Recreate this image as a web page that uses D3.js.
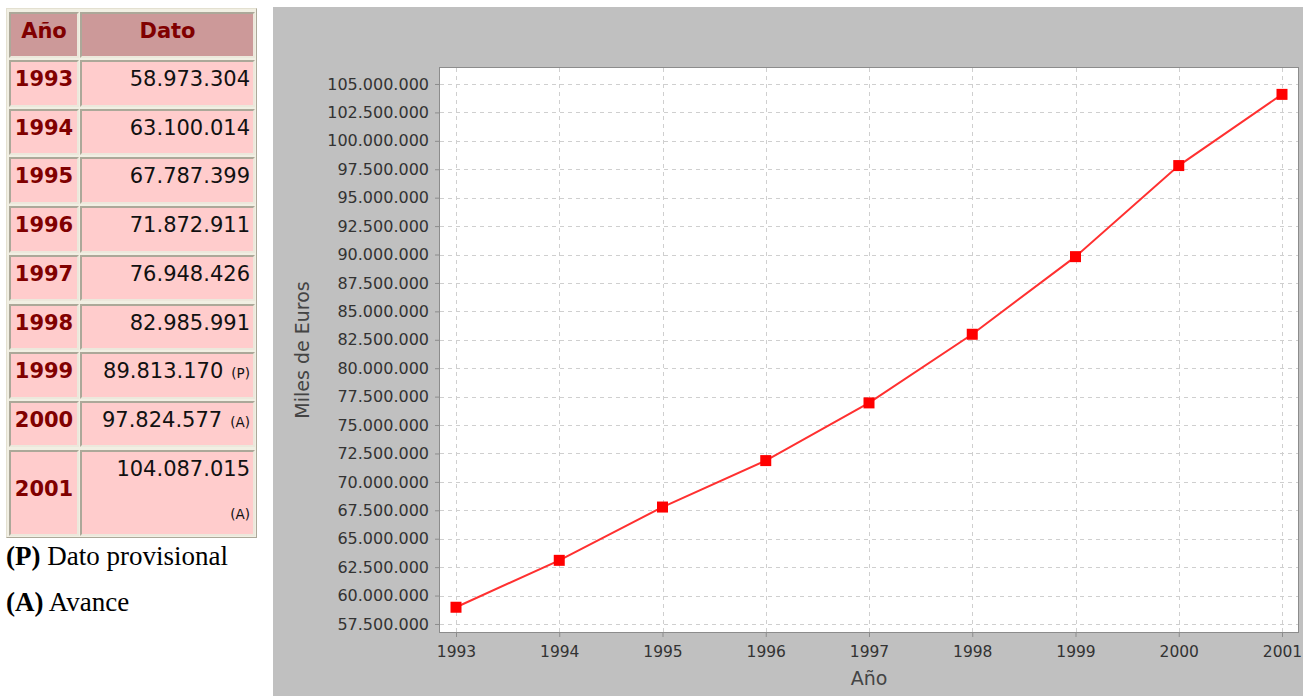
<!DOCTYPE html>
<html>
<head>
<meta charset="utf-8">
<script src="https://cdn.jsdelivr.net/npm/d3@7"></script>
<style>
  body { margin: 0; background: #fff; width: 1303px; height: 696px; overflow: hidden; position: relative; }
  #tabla { position: absolute; left: 6px; top: 8px; width: 251px; height: 530px; background: #f1efe3;
           box-sizing: border-box; border: 1px solid #e3e0d0; border-right-color: #aca899; border-bottom-color: #aca899; }
  .cell { position: absolute; box-sizing: border-box; border: 2px solid; border-color: #aca899 #ece8dc #ece8dc #aca899;
          font-family: "DejaVu Sans", Verdana, sans-serif; font-size: 21px; }
  .hdr { background: #cc9999; color: #800000; font-weight: bold; text-align: center; }
  .year { background: #ffcccc; color: #800000; font-weight: bold; text-align: center; }
  .val { background: #ffcccc; color: #111; text-align: right; padding-right: 3px; }
  .note { font-size: 13.5px; margin-left: 8px; }
  .foot { position: absolute; left: 6px; font-family: "Liberation Serif", "Times New Roman", serif; font-size: 27px; color: #000; }
  #chart { position: absolute; left: 0; top: 0; }
</style>
</head>
<body>
<svg id="chart" width="1303" height="696"></svg>
<div id="tabla"></div>
<div class="foot" style="top:541px"><b>(P)</b> Dato provisional</div>
<div class="foot" style="top:587px"><b>(A)</b> Avance</div>
<script>
const years = [1993, 1994, 1995, 1996, 1997, 1998, 1999, 2000, 2001]
const values = [58973304, 63100014, 67787399, 71872911, 76948426, 82985991, 89813170, 97824577, 104087015]
const notes = ["", "", "", "", "", "", "(P)", "(A)", "(A)"]
const yTicks = [57500000, 60000000, 62500000, 65000000, 67500000, 70000000, 72500000, 75000000, 77500000,
  80000000, 82500000, 85000000, 87500000, 90000000, 92500000, 95000000, 97500000, 100000000, 102500000, 105000000]
const yDomain = [56796000, 106407000]
const xDomain = [1993, 2001]

const es = d3.formatLocale({ decimal: ",", thousands: ".", grouping: [3], currency: ["", " €"] })
const fmt = es.format(",")

// ---- tabla ----
const tabla = d3.select("#tabla")
const col1 = { x: 2, w: 70 }, col2 = { x: 73, w: 175 }
const rowTop = i => 51 + i * 48.7
const rowH = i => i === years.length - 1 ? 86 : 46.5

tabla.append("div").attr("class", "cell hdr")
  .style("left", col1.x + "px").style("top", "3px").style("width", col1.w + "px").style("height", "46px")
  .style("line-height", "34px").text("Año")
tabla.append("div").attr("class", "cell hdr")
  .style("left", col2.x + "px").style("top", "3px").style("width", col2.w + "px").style("height", "46px")
  .style("line-height", "34px").text("Dato")

years.forEach((yr, i) => {
  const last = i === years.length - 1
  tabla.append("div").attr("class", "cell year")
    .style("left", col1.x + "px").style("top", rowTop(i) + "px")
    .style("width", col1.w + "px").style("height", rowH(i) + "px")
    .style("line-height", (rowH(i) - 12) + "px").text(yr)
  const c = tabla.append("div").attr("class", "cell val")
    .style("left", col2.x + "px").style("top", rowTop(i) + "px")
    .style("width", col2.w + "px").style("height", rowH(i) + "px")
  if (last) {
    c.style("line-height", "34px")
    c.append("div").text(fmt(values[i]))
    c.append("div").attr("class", "note").style("line-height", "56px").text(notes[i])
  } else {
    c.style("line-height", (rowH(i) - 12) + "px")
    c.append("span").text(fmt(values[i]))
    if (notes[i]) c.append("span").attr("class", "note").text(notes[i])
  }
})

// ---- gráfico ----
const svg = d3.select("#chart")
const bg = { x: 273, y: 7, w: 1030, h: 689 }
const plot = { left: 440, top: 68, right: 1298, bottom: 632 }

svg.append("rect").attr("x", bg.x).attr("y", bg.y).attr("width", bg.w).attr("height", bg.h).attr("fill", "#c0c0c0")

const x = d3.scaleLinear().domain(xDomain).range([456, 1282])
const y = d3.scaleLinear().domain(yDomain).range([plot.bottom, plot.top])

svg.append("rect").attr("x", plot.left).attr("y", plot.top)
  .attr("width", plot.right - plot.left).attr("height", plot.bottom - plot.top)
  .attr("fill", "#fff")

const grid = svg.append("g").attr("stroke", "#cfcfcf").attr("stroke-dasharray", "4,4").attr("stroke-width", 1)
grid.selectAll("line.h").data(yTicks).join("line").attr("class", "h")
  .attr("x1", plot.left).attr("x2", plot.right)
  .attr("y1", d => Math.round(y(d)) + 0.5).attr("y2", d => Math.round(y(d)) + 0.5)
grid.selectAll("line.v").data(years).join("line").attr("class", "v")
  .attr("y1", plot.top).attr("y2", plot.bottom)
  .attr("x1", d => Math.round(x(d)) + 0.5).attr("x2", d => Math.round(x(d)) + 0.5)

svg.append("rect").attr("x", plot.left - 0.5).attr("y", plot.top - 0.5)
  .attr("width", plot.right - plot.left + 1).attr("height", plot.bottom - plot.top + 1)
  .attr("fill", "none").attr("stroke", "#8c8c8c").attr("stroke-width", 1)

const yAxis = svg.append("g").attr("transform", `translate(${plot.left - 1},0)`)
  .call(d3.axisLeft(y).tickValues(yTicks).tickFormat(fmt).tickSize(4).tickPadding(6))
const xAxis = svg.append("g").attr("transform", `translate(0,${plot.bottom + 1})`)
  .call(d3.axisBottom(x).tickValues(years).tickFormat(d3.format("d")).tickSize(4).tickPadding(9))

;[yAxis, xAxis].forEach(a => {
  a.select(".domain").remove()
  a.selectAll(".tick line").attr("stroke", "#8c8c8c")
  a.selectAll(".tick text").attr("fill", "#333").style("font-family", "'DejaVu Sans', sans-serif").style("font-size", "16px")
})
xAxis.selectAll(".tick text").style("font-size", "15.5px")

svg.append("text").attr("transform", `translate(309,350) rotate(-90)`)
  .attr("text-anchor", "middle").attr("fill", "#444")
  .style("font-family", "'DejaVu Sans', sans-serif").style("font-size", "19px").text("Miles de Euros")
svg.append("text").attr("x", (plot.left + plot.right) / 2).attr("y", 685)
  .attr("text-anchor", "middle").attr("fill", "#444")
  .style("font-family", "'DejaVu Sans', sans-serif").style("font-size", "19px").text("Año")

const line = d3.line().x((d, i) => x(years[i])).y(d => y(d))
svg.append("path").datum(values).attr("d", line)
  .attr("fill", "none").attr("stroke", "#ff3030").attr("stroke-width", 2)

svg.selectAll("rect.pt").data(values).join("rect").attr("class", "pt")
  .attr("x", (d, i) => x(years[i]) - 5.5).attr("y", d => y(d) - 5.5)
  .attr("width", 11).attr("height", 11).attr("fill", "#ff0000")
</script>
</body>
</html>
